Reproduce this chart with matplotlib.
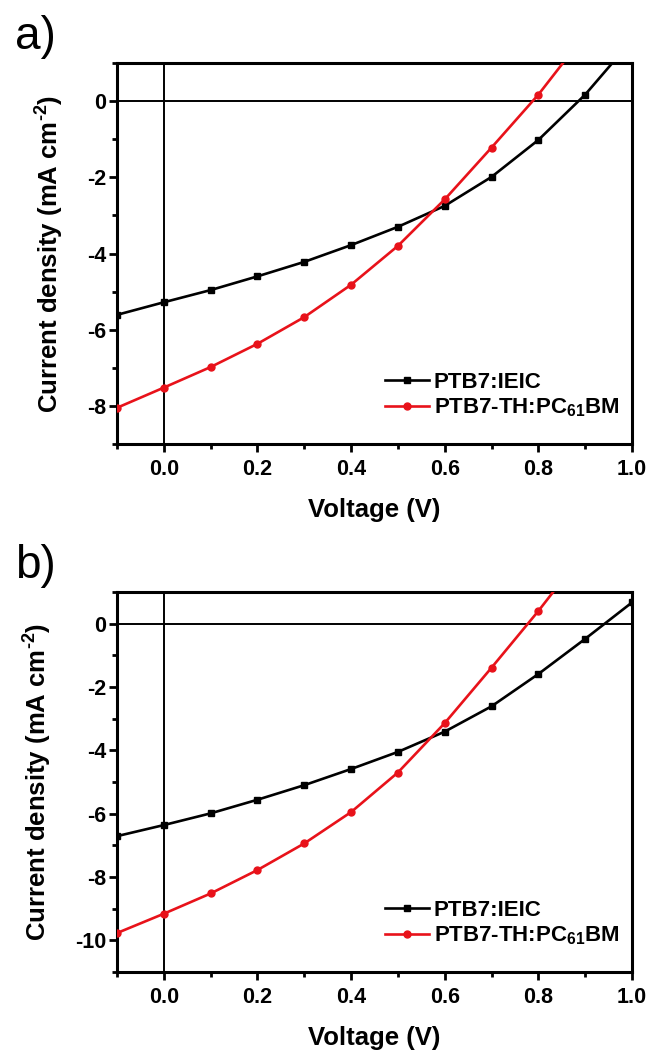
import matplotlib
matplotlib.use('Agg')
from matplotlib import pyplot as plt
from matplotlib.ticker import MultipleLocator, FormatStrFormatter

plt.rcParams['font.family'] = ['Liberation Sans', 'DejaVu Sans']
plt.rcParams['font.weight'] = 'bold'
plt.rcParams['axes.unicode_minus'] = False
plt.rcParams['mathtext.fontset'] = 'custom'
plt.rcParams['mathtext.rm'] = 'Liberation Sans:bold'
plt.rcParams['mathtext.bf'] = 'Liberation Sans:bold'
plt.rcParams['mathtext.default'] = 'bf'

# voltage steps (V)
voltage = [-0.1, 0.0, 0.1, 0.2, 0.3, 0.4, 0.5, 0.6, 0.7, 0.8, 0.9, 1.0]

# panel a, current density (mA cm-2)
a_ieic = [-5.61, -5.28, -4.96, -4.60, -4.22, -3.78, -3.30, -2.75, -1.99, -1.02, 0.17, 1.60]
a_pcbm = [-8.05, -7.52, -6.98, -6.37, -5.67, -4.82, -3.80, -2.58, -1.22, 0.17, 1.75, 3.50]

# panel b
b_ieic = [-6.71, -6.36, -5.99, -5.56, -5.10, -4.59, -4.05, -3.41, -2.61, -1.59, -0.48, 0.67]
b_pcbm = [-9.77, -9.16, -8.52, -7.78, -6.94, -5.95, -4.70, -3.14, -1.39, 0.40, 2.30, 4.30]

labels = ['PTB7:IEIC', 'PTB7-TH:PC$_{61}$BM']
panels = [('a)', a_ieic, a_pcbm, (-9, 1)), ('b)', b_ieic, b_pcbm, (-11, 1))]

W, H = 651, 1057
fig = plt.figure(figsize=(W / 100, H / 100), dpi=100)

# axes boxes in pixels: (left, top, right, bottom)
boxes = [(117, 63, 632, 444), (117, 592, 632, 972)]
letter_y = [37, 566]

for (tag, ieic, pcbm, ylim), (l, t, r, b), ly in zip(panels, boxes, letter_y):
    ax = fig.add_axes([l / W, 1 - b / H, (r - l) / W, (b - t) / H])
    ax.axhline(0, color='black', lw=1.4, zorder=1)
    ax.axvline(0, color='black', lw=1.4, zorder=1)
    ax.plot(voltage, ieic, color='black', lw=1.9, marker='s', ms=4.5, label=labels[0], zorder=3)
    ax.plot(voltage, pcbm, color='#e8121a', lw=1.9, marker='o', ms=5, label=labels[1], zorder=3)
    ax.set_xlim(-0.1, 1.0)
    ax.set_ylim(*ylim)
    ax.xaxis.set_major_locator(MultipleLocator(0.2))
    ax.xaxis.set_minor_locator(MultipleLocator(0.1))
    ax.yaxis.set_major_locator(MultipleLocator(2))
    ax.yaxis.set_minor_locator(MultipleLocator(1))
    ax.xaxis.set_major_formatter(FormatStrFormatter('%.1f'))
    for s in ax.spines.values():
        s.set_linewidth(2.2)
    ax.tick_params(which='major', direction='out', length=6, width=2, labelsize=15.5)
    ax.tick_params(which='minor', direction='out', length=3.5, width=2)
    ax.tick_params(axis='x', pad=5)
    ax.tick_params(axis='y', pad=2)
    ax.set_xlabel('Voltage (V)', fontsize=18.5, fontweight='bold', labelpad=13)
    ax.set_ylabel('Current density (mA cm$^{\N{HYPHEN}2}$)', fontsize=18.5, fontweight='bold', labelpad=15)
    ax.legend(loc='lower left', bbox_to_anchor=(0.49, 0.025), frameon=False, fontsize=16,
              numpoints=1, handlelength=2.0, handletextpad=0.2, labelspacing=0.15, borderpad=0.2)
    fig.text(15 / W, 1 - ly / H, tag, fontsize=33, fontweight='normal', ha='left', va='center')

fig.savefig('out.png', dpi=100)
